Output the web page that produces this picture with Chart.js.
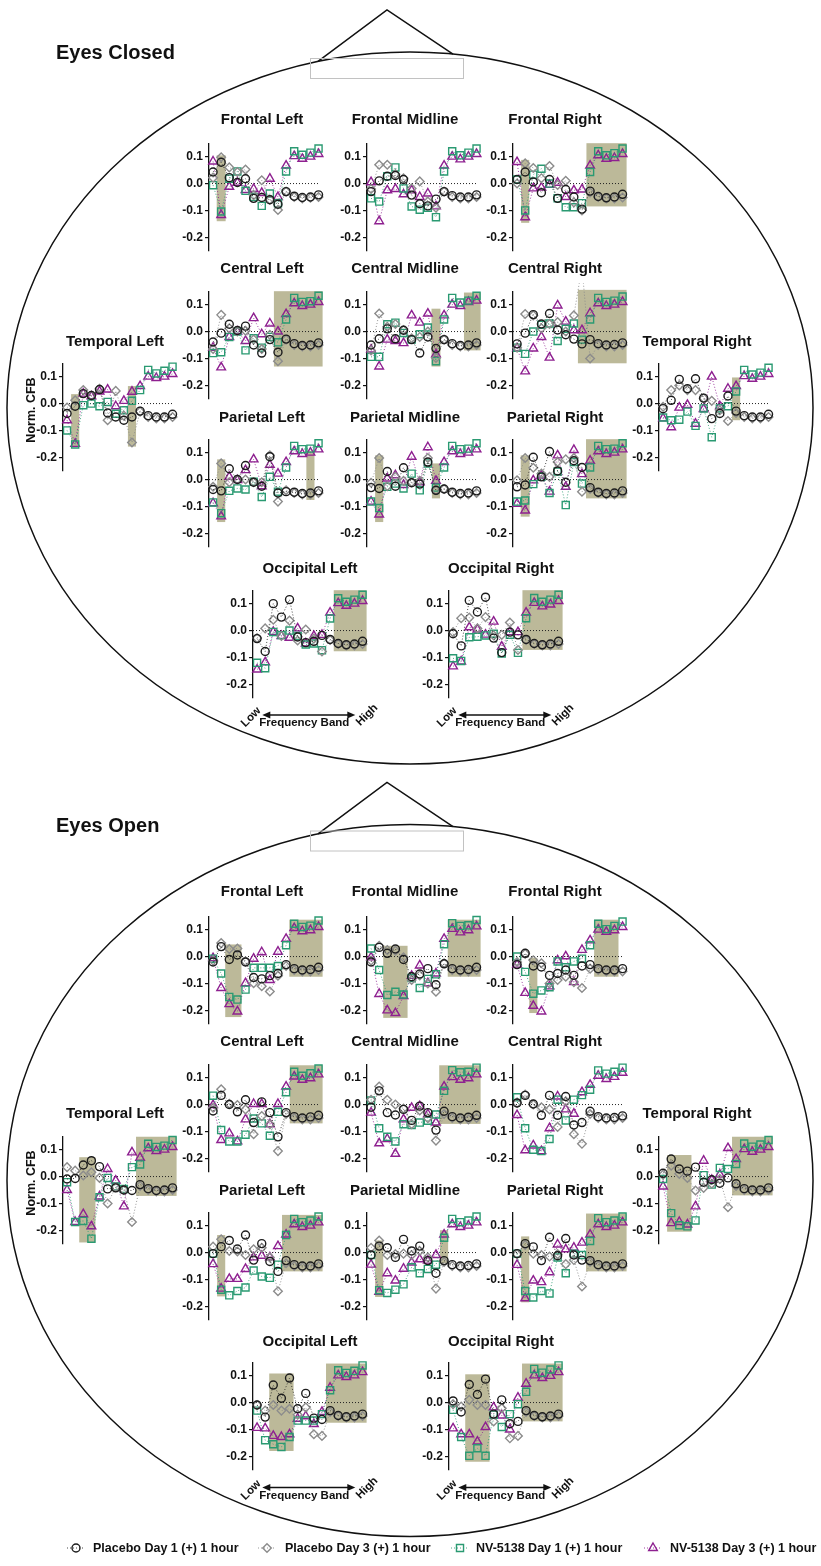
<!DOCTYPE html>
<html><head><meta charset="utf-8">
<script src="https://cdn.jsdelivr.net/npm/chart.js@4.4.0/dist/chart.umd.min.js"></script>
<style>
html,body{margin:0;padding:0;background:#fff;}
#page{position:relative;width:821px;height:1566px;overflow:hidden;font-family:"Liberation Sans",Arial,sans-serif;}
.t{position:absolute;font-weight:bold;color:#111;white-space:nowrap;line-height:1;}
canvas.p{position:absolute;}
</style></head><body>
<div id="page"><canvas id="bg" width="821" height="1566" style="position:absolute;left:0;top:0"></canvas></div>
<script>
// ---------------- DATA ----------------
const bands = [0,1,2,3,4,5,6,7,8,9,10,11,12,13];
const yTickValues = [0.1, 0.0, -0.1, -0.2];
const seriesNames = ['Placebo Day 1 (+) 1 hour','Placebo Day 3 (+) 1 hour','NV-5138 Day 1 (+) 1 hour','NV-5138 Day 3 (+) 1 hour'];
const conditions = ['Eyes Closed','Eyes Open'];

// Eyes Closed
const EC_FL_pl1=[0.043,0.079,0.022,0.004,0.018,-0.055,-0.052,-0.06,-0.077,-0.03,-0.047,-0.052,-0.05,-0.042];
const EC_FL_pl3=[0.022,0.098,0.06,0.043,0.052,-0.043,0.012,-0.06,-0.098,-0.03,-0.05,-0.055,-0.053,-0.05];
const EC_FL_nv1=[-0.006,-0.104,0.018,0.045,-0.027,-0.05,-0.083,-0.037,-0.073,0.045,0.12,0.107,0.115,0.13];
const EC_FL_nv3=[0.082,-0.117,-0.012,0.003,-0.024,-0.02,-0.035,0.018,-0.05,0.067,0.102,0.092,0.1,0.11];
const EC_FL_box=[[0.45,1.55,-0.14,0.105]];

const EC_FM_pl1=[-0.03,0.01,0.027,0.03,0.015,-0.043,-0.075,-0.083,-0.058,-0.03,-0.045,-0.05,-0.05,-0.042];
const EC_FM_pl3=[-0.02,0.07,0.07,0.035,0.02,-0.018,0.008,-0.067,-0.09,-0.03,-0.05,-0.055,-0.055,-0.05];
const EC_FM_nv1=[-0.055,-0.067,0.027,0.06,-0.018,-0.085,-0.097,-0.09,-0.125,0.045,0.12,0.105,0.115,0.13];
const EC_FM_nv3=[0.005,-0.14,-0.025,-0.02,-0.04,-0.025,-0.05,-0.037,-0.085,0.067,0.1,0.09,0.1,0.11];
const EC_FM_box=[];

const EC_FR_pl1=[0.015,0.043,0.006,-0.034,0.015,-0.055,-0.022,-0.05,-0.095,-0.028,-0.048,-0.053,-0.05,-0.04];
const EC_FR_pl3=[0.0,0.075,0.058,0.02,0.065,-0.005,0.01,-0.07,-0.1,-0.033,-0.05,-0.055,-0.055,-0.052];
const EC_FR_nv1=[0.015,-0.1,0.033,0.055,0.0,-0.055,-0.088,-0.088,-0.073,0.043,0.12,0.105,0.113,0.13];
const EC_FR_nv3=[0.08,-0.125,-0.018,-0.015,-0.005,0.003,-0.05,-0.025,-0.022,0.067,0.105,0.092,0.095,0.11];
const EC_FR_box=[[0.5,1.5,-0.146,0.088],[8.55,13.5,-0.085,0.15]];

const EC_CL_pl1=[-0.039,-0.006,0.027,0.004,0.02,-0.05,-0.08,-0.03,-0.077,-0.028,-0.045,-0.052,-0.05,-0.042];
const EC_CL_pl3=[-0.065,0.062,0.012,0.0,0.003,-0.03,-0.065,-0.012,-0.11,-0.03,-0.05,-0.055,-0.055,-0.05];
const EC_CL_nv1=[-0.08,-0.077,-0.02,0.0,-0.07,-0.025,-0.06,-0.02,-0.04,0.045,0.125,0.11,0.113,0.133];
const EC_CL_nv3=[-0.06,-0.133,-0.02,0.0,-0.035,0.05,-0.01,0.03,0.0,0.065,0.105,0.095,0.1,0.11];
const EC_CL_box=[[7.5,13.5,-0.13,0.15]];

const EC_CM_pl1=[-0.05,-0.027,0.01,-0.027,0.005,-0.03,-0.08,-0.02,-0.063,-0.03,-0.045,-0.052,-0.05,-0.042];
const EC_CM_pl3=[-0.07,0.067,0.018,0.028,0.006,-0.025,-0.02,0.0,-0.098,-0.03,-0.05,-0.055,-0.055,-0.05];
const EC_CM_nv1=[-0.094,-0.094,0.027,0.033,-0.005,-0.03,-0.01,0.015,-0.11,0.045,0.125,0.108,0.115,0.133];
const EC_CM_nv3=[-0.067,-0.13,-0.03,-0.035,-0.043,0.06,0.033,0.067,-0.085,0.06,0.1,0.095,0.11,0.115];
const EC_CM_box=[[7.45,8.55,-0.13,0.085],[11.45,13.5,-0.07,0.145]];

const EC_CR_pl1=[-0.046,-0.006,0.063,0.028,0.067,0.006,-0.012,-0.028,-0.046,-0.03,-0.045,-0.05,-0.048,-0.042];
const EC_CR_pl3=[-0.06,0.065,0.06,0.012,0.028,0.035,0.0,0.06,0.24,-0.1,-0.05,-0.055,-0.055,-0.05];
const EC_CR_nv1=[-0.06,-0.083,0.0,0.025,0.03,-0.035,0.01,0.03,-0.03,0.045,0.125,0.11,0.115,0.13];
const EC_CR_nv3=[-0.062,-0.148,-0.063,-0.02,-0.097,0.097,0.037,0.005,0.005,0.068,0.105,0.095,0.1,0.11];
const EC_CR_box=[[7.5,13.5,-0.118,0.155]];

const EC_TL_pl1=[-0.037,-0.01,0.037,0.03,0.052,-0.035,-0.05,-0.062,-0.05,-0.028,-0.045,-0.05,-0.05,-0.04];
const EC_TL_pl3=[-0.015,0.012,0.05,0.03,0.055,-0.062,0.047,-0.045,-0.145,-0.03,-0.05,-0.055,-0.055,-0.05];
const EC_TL_nv1=[-0.1,-0.152,-0.006,0.0,-0.01,0.006,-0.038,-0.025,0.01,0.05,0.125,0.112,0.122,0.137];
const EC_TL_nv3=[-0.062,-0.15,0.037,0.027,0.045,0.052,-0.01,0.01,0.044,0.065,0.1,0.095,0.1,0.11];
const EC_TL_box=[[0.5,1.5,-0.16,0.035],[7.5,8.5,-0.16,0.065]];

const EC_TR_pl1=[-0.019,0.012,0.09,0.055,0.092,0.02,-0.056,-0.037,0.028,-0.028,-0.045,-0.05,-0.05,-0.04];
const EC_TR_pl3=[-0.012,0.05,0.067,0.05,0.05,0.02,0.01,-0.025,-0.065,-0.035,-0.05,-0.055,-0.055,-0.05];
const EC_TR_nv1=[-0.052,-0.062,-0.06,-0.03,-0.083,-0.018,-0.125,-0.018,-0.01,0.045,0.125,0.108,0.115,0.133];
const EC_TR_nv3=[-0.055,-0.088,-0.015,-0.005,-0.075,-0.02,0.1,-0.01,0.055,0.065,0.102,0.092,0.1,0.11];
const EC_TR_box=[[8.5,9.5,-0.062,0.097]];

const EC_PL_pl1=[-0.037,-0.042,0.04,0.0,0.052,-0.01,-0.025,0.085,-0.05,-0.045,-0.047,-0.052,-0.05,-0.042];
const EC_PL_pl3=[-0.027,0.06,-0.01,0.0,0.0,-0.01,-0.01,0.09,-0.082,-0.04,-0.05,-0.055,-0.055,-0.05];
const EC_PL_nv1=[-0.085,-0.125,-0.042,-0.033,-0.037,-0.008,-0.065,0.01,-0.045,0.045,0.125,0.113,0.115,0.135];
const EC_PL_nv3=[-0.088,-0.137,0.01,-0.002,0.035,0.075,-0.025,0.055,0.022,0.065,0.105,0.095,0.1,0.112];
const EC_PL_box=[[0.5,1.5,-0.158,0.075],[11.5,12.5,-0.076,0.107]];

const EC_PM_pl1=[-0.03,-0.033,0.03,-0.025,0.044,-0.012,-0.017,0.065,-0.04,-0.035,-0.047,-0.052,-0.05,-0.042];
const EC_PM_pl3=[-0.012,0.08,-0.025,0.01,-0.005,-0.01,-0.005,0.08,-0.04,-0.035,-0.05,-0.055,-0.055,-0.05];
const EC_PM_nv1=[-0.082,-0.106,-0.027,-0.015,-0.033,0.022,-0.04,0.06,-0.03,0.045,0.125,0.113,0.115,0.135];
const EC_PM_nv3=[-0.082,-0.13,0.004,0.016,-0.02,0.085,-0.01,0.12,-0.005,0.065,0.105,0.095,0.1,0.112];
const EC_PM_box=[[0.5,1.5,-0.158,0.09],[7.5,8.5,-0.07,0.06]];

const EC_PR_pl1=[-0.027,-0.02,0.083,0.01,0.104,0.032,-0.01,0.07,0.045,-0.03,-0.047,-0.052,-0.05,-0.042];
const EC_PR_pl3=[-0.003,0.08,0.044,0.022,0.01,0.065,0.075,0.08,-0.045,-0.035,-0.05,-0.055,-0.055,-0.05];
const EC_PR_nv1=[-0.082,-0.078,-0.017,0.01,-0.05,0.03,-0.095,0.065,-0.015,0.045,0.125,0.113,0.115,0.135];
const EC_PR_nv3=[-0.09,-0.115,-0.003,0.015,-0.045,0.09,-0.027,0.11,0.02,0.07,0.105,0.095,0.1,0.112];
const EC_PR_box=[[0.45,1.55,-0.138,0.09],[8.5,13.5,-0.07,0.15]];

const EC_OL_pl1=[-0.03,-0.078,0.1,0.05,0.115,-0.024,-0.045,-0.04,-0.018,-0.033,-0.048,-0.053,-0.05,-0.04];
const EC_OL_pl3=[-0.028,0.008,0.04,-0.02,0.037,-0.037,0.004,-0.03,-0.078,-0.035,-0.05,-0.055,-0.055,-0.05];
const EC_OL_nv1=[-0.12,-0.14,-0.005,-0.017,0.0,-0.02,-0.052,-0.048,-0.073,0.045,0.12,0.107,0.115,0.133];
const EC_OL_nv3=[-0.145,-0.118,-0.005,-0.02,-0.027,0.008,-0.048,-0.02,-0.016,0.067,0.102,0.092,0.1,0.11];
const EC_OL_box=[[9.45,13.5,-0.077,0.15]];

const EC_OR_pl1=[-0.012,-0.057,0.112,0.069,0.124,-0.028,-0.082,-0.006,-0.016,-0.033,-0.048,-0.053,-0.05,-0.04];
const EC_OR_pl3=[-0.006,0.046,0.048,0.008,0.05,-0.018,-0.016,0.03,-0.072,-0.035,-0.05,-0.055,-0.055,-0.05];
const EC_OR_nv1=[-0.103,-0.113,-0.025,-0.023,-0.018,-0.012,-0.085,-0.016,-0.083,0.046,0.121,0.107,0.115,0.133];
const EC_OR_nv3=[-0.133,-0.115,0.012,0.004,-0.015,0.033,-0.06,-0.006,-0.006,0.067,0.103,0.09,0.097,0.11];
const EC_OR_box=[[8.55,13.5,-0.072,0.15]];

// Eyes Open
const EO_FL_pl1=[-0.02,0.037,-0.011,0.006,-0.02,-0.078,-0.083,-0.071,-0.063,-0.03,-0.045,-0.05,-0.048,-0.04];
const EO_FL_pl3=[-0.015,0.05,0.028,0.03,-0.018,-0.099,-0.11,-0.13,-0.071,-0.035,-0.05,-0.055,-0.055,-0.05];
const EO_FL_nv1=[-0.008,-0.063,-0.15,-0.16,-0.123,-0.042,-0.042,-0.042,-0.035,0.042,0.122,0.11,0.115,0.134];
const EO_FL_nv3=[-0.006,-0.117,-0.177,-0.204,-0.099,-0.008,0.016,-0.087,0.018,0.066,0.106,0.094,0.098,0.11];
const EO_FL_box=[[1.5,3.5,-0.225,0.045],[9.4,13.5,-0.075,0.137]];

const EO_FM_pl1=[-0.02,0.034,0.012,0.028,-0.011,-0.075,-0.065,-0.045,-0.105,-0.027,-0.045,-0.05,-0.048,-0.04];
const EO_FM_pl3=[-0.015,0.04,0.024,0.022,-0.003,-0.087,-0.07,-0.1,-0.131,-0.025,-0.05,-0.055,-0.055,-0.05];
const EO_FM_nv1=[0.03,-0.05,-0.143,-0.131,-0.141,-0.08,-0.117,-0.083,-0.066,0.046,0.124,0.114,0.116,0.136];
const EO_FM_nv3=[-0.003,-0.139,-0.2,-0.21,-0.147,-0.072,-0.033,-0.099,-0.063,0.066,0.103,0.09,0.098,0.112];
const EO_FM_box=[[1.5,4.5,-0.228,0.04],[9.45,13.5,-0.075,0.137]];

const EO_FR_pl1=[-0.03,0.012,-0.035,-0.039,-0.07,-0.063,-0.05,-0.07,-0.035,-0.03,-0.045,-0.05,-0.05,-0.045];
const EO_FR_pl3=[-0.02,0.01,-0.014,-0.025,-0.1,-0.087,-0.075,-0.095,-0.117,-0.045,-0.05,-0.055,-0.055,-0.055];
const EO_FR_nv1=[0.0,-0.057,-0.138,-0.126,-0.114,-0.018,-0.04,-0.018,-0.008,0.042,0.122,0.102,0.114,0.13];
const EO_FR_nv3=[-0.03,-0.135,-0.183,-0.204,-0.111,-0.014,0.001,-0.095,0.025,0.06,0.1,0.092,0.098,0.11];
const EO_FR_box=[[1.5,2.5,-0.21,-0.005],[9.5,12.5,-0.075,0.137]];

const EO_CL_pl1=[-0.024,0.034,0.0,-0.027,0.018,-0.067,0.01,-0.03,-0.12,-0.03,-0.045,-0.05,-0.046,-0.04];
const EO_CL_pl3=[-0.012,0.057,0.003,-0.002,-0.018,-0.11,-0.043,-0.073,-0.173,-0.035,-0.05,-0.055,-0.055,-0.05];
const EO_CL_nv1=[0.033,-0.095,-0.137,-0.137,-0.112,-0.052,-0.07,-0.116,-0.027,0.046,0.122,0.107,0.116,0.134];
const EO_CL_nv3=[-0.002,-0.132,-0.107,-0.137,-0.055,0.002,0.002,-0.073,0.002,0.067,0.104,0.092,0.098,0.112];
const EO_CL_box=[[9.45,13.5,-0.07,0.146]];

const EO_CM_pl1=[-0.01,0.051,-0.03,-0.039,-0.018,-0.059,-0.006,-0.03,-0.095,-0.025,-0.045,-0.05,-0.047,-0.04];
const EO_CM_pl3=[0.018,0.067,0.018,0.0,-0.015,-0.073,-0.022,-0.051,-0.134,-0.035,-0.05,-0.055,-0.055,-0.05];
const EO_CM_nv1=[0.015,-0.088,-0.12,-0.137,-0.073,-0.076,-0.067,-0.06,-0.037,0.051,0.128,0.12,0.122,0.137];
const EO_CM_nv3=[-0.03,-0.144,-0.128,-0.183,-0.055,-0.012,-0.006,-0.036,-0.067,0.067,0.102,0.092,0.098,0.112];
const EO_CM_box=[[8.4,13.5,-0.072,0.146]];

const EO_CR_pl1=[0.006,0.034,0.002,-0.04,0.034,-0.04,0.03,-0.076,-0.067,-0.025,-0.045,-0.05,-0.048,-0.042];
const EO_CR_pl3=[0.006,0.037,0.0,-0.01,-0.018,-0.083,0.012,-0.11,-0.146,-0.035,-0.05,-0.055,-0.055,-0.05];
const EO_CR_nv1=[0.027,-0.088,-0.168,-0.173,-0.128,0.018,-0.059,0.018,0.035,0.055,0.127,0.115,0.122,0.137];
const EO_CR_nv3=[-0.039,-0.17,-0.152,-0.173,-0.088,0.03,-0.018,-0.034,0.046,0.073,0.107,0.095,0.103,0.118];
const EO_CR_box=[];

const EO_TL_pl1=[-0.009,-0.007,0.043,0.059,0.037,-0.046,-0.042,-0.05,-0.052,-0.03,-0.045,-0.052,-0.05,-0.042];
const EO_TL_pl3=[0.035,0.022,0.004,0.016,-0.005,-0.1,-0.04,-0.05,-0.169,-0.035,-0.05,-0.055,-0.055,-0.05];
const EO_TL_nv1=[-0.021,-0.169,-0.165,-0.231,-0.077,-0.005,-0.037,-0.046,0.035,0.045,0.122,0.11,0.115,0.136];
const EO_TL_nv3=[-0.05,-0.169,-0.14,-0.185,-0.074,0.028,-0.015,-0.111,0.09,0.07,0.105,0.095,0.1,0.11];
const EO_TL_box=[[1.5,3.5,-0.245,0.072],[8.5,13.5,-0.072,0.148]];

const EO_TR_pl1=[0.012,0.065,0.028,0.02,0.035,-0.021,-0.012,-0.025,-0.005,-0.027,-0.045,-0.05,-0.05,-0.042];
const EO_TR_pl3=[0.007,0.04,0.01,-0.005,-0.052,-0.042,-0.027,-0.009,-0.114,-0.035,-0.05,-0.055,-0.055,-0.05];
const EO_TR_nv1=[-0.009,-0.136,-0.181,-0.185,-0.163,0.005,-0.03,0.032,0.028,0.047,0.123,0.111,0.119,0.136];
const EO_TR_nv3=[-0.037,-0.173,-0.169,-0.178,-0.111,0.059,-0.012,0.007,0.106,0.065,0.102,0.092,0.1,0.11];
const EO_TR_box=[[0.5,3.5,-0.205,0.08],[8.5,13.5,-0.07,0.148]];

const EO_PL_pl1=[-0.004,0.022,0.045,0.013,0.065,-0.028,0.033,-0.033,-0.07,-0.03,-0.045,-0.05,-0.05,-0.042];
const EO_PL_pl3=[0.022,0.049,0.006,0.004,-0.009,0.012,0.018,-0.018,-0.144,-0.04,-0.05,-0.055,-0.055,-0.05];
const EO_PL_nv1=[-0.004,-0.138,-0.159,-0.143,-0.13,-0.067,-0.089,-0.094,-0.045,0.065,0.125,0.113,0.119,0.134];
const EO_PL_nv3=[-0.043,-0.134,-0.098,-0.098,-0.061,-0.018,-0.012,-0.018,0.024,0.067,0.105,0.095,0.1,0.112];
const EO_PL_box=[[0.5,1.5,-0.163,0.065],[8.5,13.5,-0.07,0.14]];

const EO_PM_pl1=[-0.009,0.024,0.018,-0.018,0.049,0.006,0.024,-0.03,-0.077,-0.03,-0.045,-0.05,-0.048,-0.042];
const EO_PM_pl3=[0.018,0.045,-0.009,-0.006,-0.004,-0.009,0.006,-0.018,-0.134,-0.035,-0.05,-0.055,-0.055,-0.05];
const EO_PM_nv1=[-0.009,-0.14,-0.15,-0.138,-0.118,-0.055,-0.077,-0.061,-0.045,0.055,0.125,0.113,0.119,0.134];
const EO_PM_nv3=[-0.045,-0.146,-0.077,-0.104,-0.06,-0.037,-0.025,-0.03,-0.009,0.067,0.105,0.095,0.1,0.112];
const EO_PM_box=[[0.5,1.5,-0.165,0.045],[8.5,9.5,-0.04,0.083]];

const EO_PR_pl1=[-0.004,0.033,0.021,-0.03,0.057,-0.012,0.052,-0.009,-0.028,-0.03,-0.045,-0.05,-0.05,-0.042];
const EO_PR_pl3=[-0.006,0.028,-0.004,-0.009,-0.015,-0.006,-0.043,-0.028,-0.126,-0.035,-0.05,-0.055,-0.055,-0.05];
const EO_PR_nv1=[-0.004,-0.143,-0.167,-0.143,-0.152,-0.018,-0.077,-0.004,-0.009,0.043,0.128,0.113,0.119,0.134];
const EO_PR_nv3=[-0.046,-0.17,-0.104,-0.11,-0.073,0.03,0.012,0.018,0.037,0.067,0.105,0.095,0.1,0.112];
const EO_PR_box=[[0.5,1.5,-0.185,0.06],[8.5,13.5,-0.07,0.145]];

const EO_OL_pl1=[-0.009,-0.054,0.065,0.016,0.091,-0.023,0.034,-0.058,-0.063,-0.03,-0.048,-0.053,-0.05,-0.043];
const EO_OL_pl3=[-0.009,-0.03,-0.009,-0.03,-0.023,-0.045,-0.018,-0.118,-0.124,-0.035,-0.05,-0.055,-0.055,-0.05];
const EO_OL_nv1=[-0.03,-0.14,-0.155,-0.165,-0.128,-0.067,-0.067,-0.067,-0.043,0.046,0.12,0.11,0.118,0.138];
const EO_OL_nv3=[-0.094,-0.096,-0.124,-0.128,-0.118,-0.06,-0.051,-0.08,-0.035,0.055,0.101,0.095,0.101,0.113];
const EO_OL_box=[[1.5,4.5,-0.18,0.108],[8.5,13.5,-0.075,0.145]];

const EO_OR_pl1=[0.006,-0.035,0.067,0.03,0.087,-0.043,0.01,-0.079,-0.07,-0.03,-0.048,-0.053,-0.05,-0.043];
const EO_OR_pl3=[-0.006,-0.015,0.01,-0.009,-0.009,-0.07,-0.021,-0.133,-0.124,-0.035,-0.05,-0.055,-0.055,-0.05];
const EO_OR_nv1=[-0.027,-0.128,-0.198,-0.17,-0.198,-0.045,-0.091,-0.043,-0.006,0.04,0.125,0.111,0.123,0.138];
const EO_OR_nv3=[-0.096,-0.118,-0.118,-0.145,-0.091,-0.018,-0.048,-0.1,0.018,0.07,0.101,0.091,0.099,0.113];
const EO_OR_box=[[1.5,4.5,-0.22,0.105],[8.5,13.5,-0.07,0.145]];

// ---------------- PANELS ----------------
const panels = [
 ['EC','FL','Frontal Left',[EC_FL_pl1,EC_FL_pl3,EC_FL_nv1,EC_FL_nv3],EC_FL_box],
 ['EC','FM','Frontal Midline',[EC_FM_pl1,EC_FM_pl3,EC_FM_nv1,EC_FM_nv3],EC_FM_box],
 ['EC','FR','Frontal Right',[EC_FR_pl1,EC_FR_pl3,EC_FR_nv1,EC_FR_nv3],EC_FR_box],
 ['EC','CL','Central Left',[EC_CL_pl1,EC_CL_pl3,EC_CL_nv1,EC_CL_nv3],EC_CL_box],
 ['EC','CM','Central Midline',[EC_CM_pl1,EC_CM_pl3,EC_CM_nv1,EC_CM_nv3],EC_CM_box],
 ['EC','CR','Central Right',[EC_CR_pl1,EC_CR_pl3,EC_CR_nv1,EC_CR_nv3],EC_CR_box],
 ['EC','TL','Temporal Left',[EC_TL_pl1,EC_TL_pl3,EC_TL_nv1,EC_TL_nv3],EC_TL_box],
 ['EC','TR','Temporal Right',[EC_TR_pl1,EC_TR_pl3,EC_TR_nv1,EC_TR_nv3],EC_TR_box],
 ['EC','PL','Parietal Left',[EC_PL_pl1,EC_PL_pl3,EC_PL_nv1,EC_PL_nv3],EC_PL_box],
 ['EC','PM','Parietal Midline',[EC_PM_pl1,EC_PM_pl3,EC_PM_nv1,EC_PM_nv3],EC_PM_box],
 ['EC','PR','Parietal Right',[EC_PR_pl1,EC_PR_pl3,EC_PR_nv1,EC_PR_nv3],EC_PR_box],
 ['EC','OL','Occipital Left',[EC_OL_pl1,EC_OL_pl3,EC_OL_nv1,EC_OL_nv3],EC_OL_box],
 ['EC','OR','Occipital Right',[EC_OR_pl1,EC_OR_pl3,EC_OR_nv1,EC_OR_nv3],EC_OR_box],
 ['EO','FL','Frontal Left',[EO_FL_pl1,EO_FL_pl3,EO_FL_nv1,EO_FL_nv3],EO_FL_box],
 ['EO','FM','Frontal Midline',[EO_FM_pl1,EO_FM_pl3,EO_FM_nv1,EO_FM_nv3],EO_FM_box],
 ['EO','FR','Frontal Right',[EO_FR_pl1,EO_FR_pl3,EO_FR_nv1,EO_FR_nv3],EO_FR_box],
 ['EO','CL','Central Left',[EO_CL_pl1,EO_CL_pl3,EO_CL_nv1,EO_CL_nv3],EO_CL_box],
 ['EO','CM','Central Midline',[EO_CM_pl1,EO_CM_pl3,EO_CM_nv1,EO_CM_nv3],EO_CM_box],
 ['EO','CR','Central Right',[EO_CR_pl1,EO_CR_pl3,EO_CR_nv1,EO_CR_nv3],EO_CR_box],
 ['EO','TL','Temporal Left',[EO_TL_pl1,EO_TL_pl3,EO_TL_nv1,EO_TL_nv3],EO_TL_box],
 ['EO','TR','Temporal Right',[EO_TR_pl1,EO_TR_pl3,EO_TR_nv1,EO_TR_nv3],EO_TR_box],
 ['EO','PL','Parietal Left',[EO_PL_pl1,EO_PL_pl3,EO_PL_nv1,EO_PL_nv3],EO_PL_box],
 ['EO','PM','Parietal Midline',[EO_PM_pl1,EO_PM_pl3,EO_PM_nv1,EO_PM_nv3],EO_PM_box],
 ['EO','PR','Parietal Right',[EO_PR_pl1,EO_PR_pl3,EO_PR_nv1,EO_PR_nv3],EO_PR_box],
 ['EO','OL','Occipital Left',[EO_OL_pl1,EO_OL_pl3,EO_OL_nv1,EO_OL_nv3],EO_OL_box],
 ['EO','OR','Occipital Right',[EO_OR_pl1,EO_OR_pl3,EO_OR_nv1,EO_OR_nv3],EO_OR_box]
];

// ---------------- LAYOUT & STYLE ----------------
const FONT = '"Liberation Sans", Arial, Helvetica, sans-serif';
const condOffset = {EC:0, EO:772.5};
const layout = {
 FL:{ax:209,zy:183.5,tx:262,ty:117.5}, FM:{ax:366.5,zy:183.5,tx:405,ty:117.5}, FR:{ax:513.3,zy:183.5,tx:555,ty:117.5},
 CL:{ax:209,zy:331.7,tx:262,ty:267}, CM:{ax:366.5,zy:331.7,tx:405,ty:267}, CR:{ax:513.3,zy:331.7,tx:555,ty:267},
 TL:{ax:63,zy:403.5,tx:115,ty:339.5}, TR:{ax:659,zy:403.5,tx:697,ty:339.5},
 PL:{ax:209,zy:479.3,tx:262,ty:416}, PM:{ax:366.5,zy:479.3,tx:405,ty:416}, PR:{ax:513.3,zy:479.3,tx:555,ty:416},
 OL:{ax:253.3,zy:630,tx:310,ty:567}, OR:{ax:449.3,zy:630,tx:501,ty:567}
};
const styles = [
 {ps:'circle', r:4, color:'#1c1c1c', line:'rgba(40,40,40,0.85)'},
 {ps:'rectRot', r:4.3, color:'#8c8c8c', line:'rgba(140,140,140,0.9)'},
 {ps:'rect', r:5, color:'#2a9a72', line:'rgba(42,154,114,0.85)'},
 {ps:'triangle', r:5, color:'#8e2090', line:'rgba(142,32,144,0.85)'}
];
const BOX_COLOR = '#bcb999';
const YAXW = 30, PLOTW = 114, PLOTH = 110, PADV = 8, PADR = 6;
const PX_PER_UNIT = PLOTH / 0.4;

const page = document.getElementById('page');
function addText(str, x, y, size, opt) {
  opt = opt || {};
  const d = document.createElement('div');
  d.className = 't';
  d.textContent = str;
  d.style.fontSize = size + 'px';
  d.style.left = x + 'px';
  d.style.top = y + 'px';
  const tx = opt.align === 'left' ? '0' : '-50%';
  d.style.transform = 'translate(' + tx + ',-50%)' + (opt.rot ? ' rotate(' + opt.rot + 'deg)' : '');
  if (opt.rot && opt.align !== 'left') d.style.transformOrigin = '50% 50%';
  page.appendChild(d);
  return d;
}
function fmt(v){ return Math.abs(v) < 1e-9 ? '0.0' : v.toFixed(1); }

function makePanel(p) {
  const [cond, key, title, series, boxes] = p;
  const L = layout[key], off = condOffset[cond];
  const zy = L.zy + off;
  const cv = document.createElement('canvas');
  cv.className = 'p';
  cv.width = YAXW + PLOTW + PADR;
  cv.height = PLOTH + 2 * PADV;
  cv.style.left = (L.ax - YAXW) + 'px';
  cv.style.top = (zy - 0.15 * PX_PER_UNIT - PADV) + 'px';
  page.appendChild(cv);
  addText(title, L.tx, L.ty + off, 15);

  const boxPlugin = {
    id: 'bandBoxes',
    beforeDatasetsDraw(chart) {
      const {ctx, scales:{x, y}} = chart;
      ctx.save();
      ctx.fillStyle = BOX_COLOR;
      for (const b of boxes) {
        const x0 = x.getPixelForValue(b[0]), x1 = x.getPixelForValue(b[1]);
        const yTop = y.getPixelForValue(b[3]), yBot = y.getPixelForValue(b[2]);
        ctx.fillRect(x0, yTop, x1 - x0, yBot - yTop);
      }
      ctx.restore();
    }
  };

  const datasets = series.map((arr, i) => ({
    label: seriesNames[i],
    data: bands.map((b, j) => ({x: b, y: arr[j]})),
    borderColor: styles[i].line,
    borderWidth: 1,
    borderDash: [1, 2],
    pointStyle: styles[i].ps,
    pointRadius: styles[i].r,
    pointBorderColor: styles[i].color,
    pointBackgroundColor: 'rgba(255,255,255,0)',
    pointBorderWidth: 1.4,
    fill: false,
    tension: 0,
    clip: 8
  }));
  datasets.push({
    label: 'zero',
    data: [{x: -0.5, y: 0}, {x: 13, y: 0}],
    borderColor: '#222',
    borderWidth: 1,
    borderDash: [1, 2],
    pointRadius: 0,
    fill: false
  });

  new Chart(cv, {
    type: 'line',
    data: {datasets},
    options: {
      responsive: false, animation: false, devicePixelRatio: 1,
      layout: {padding: {top: PADV, bottom: PADV, left: 0, right: PADR}},
      plugins: {legend: {display: false}, tooltip: {enabled: false}, title: {display: false}},
      scales: {
        x: {type: 'linear', min: -0.5, max: 13.5, display: false},
        y: {
          type: 'linear', min: -0.25, max: 0.15,
          afterFit: s => { s.width = YAXW; },
          afterBuildTicks: s => { s.ticks = yTickValues.map(v => ({value: v})); },
          ticks: {callback: v => fmt(v), font: {family: FONT, size: 12, weight: 'bold'}, color: '#111', padding: 2, autoSkip: false},
          grid: {display: true, drawOnChartArea: false, drawTicks: true, tickLength: 4, color: '#111', lineWidth: 1.2},
          border: {display: true, color: '#111', width: 1.3}
        }
      }
    },
    plugins: [boxPlugin]
  });
}
panels.forEach(makePanel);

// ---------------- DECORATION ----------------
const bg = document.getElementById('bg').getContext('2d');
function head(oy) {
  const cx = 410, cy = 408 + oy, rx = 403, ry = 356;
  bg.save();
  bg.strokeStyle = '#111'; bg.lineWidth = 1.5;
  bg.beginPath(); bg.ellipse(cx, cy, rx, ry, 0, 0, Math.PI * 2); bg.stroke();
  const ey = x => cy - ry * Math.sqrt(1 - Math.pow((x - cx) / rx, 2));
  bg.beginPath(); bg.moveTo(318, ey(318)); bg.lineTo(387, 10 + oy); bg.lineTo(453, ey(453)); bg.stroke();
  bg.strokeStyle = '#c2c2c2'; bg.lineWidth = 1;
  bg.strokeRect(310.5, 58.5 + oy, 153, 20);
  bg.restore();
}
function arrow(x0, x1, y) {
  bg.save();
  bg.strokeStyle = '#111'; bg.fillStyle = '#111'; bg.lineWidth = 1.5;
  bg.beginPath(); bg.moveTo(x0 + 5, y); bg.lineTo(x1 - 5, y); bg.stroke();
  bg.beginPath(); bg.moveTo(x0, y); bg.lineTo(x0 + 8, y - 3.5); bg.lineTo(x0 + 8, y + 3.5); bg.closePath(); bg.fill();
  bg.beginPath(); bg.moveTo(x1, y); bg.lineTo(x1 - 8, y - 3.5); bg.lineTo(x1 - 8, y + 3.5); bg.closePath(); bg.fill();
  bg.restore();
}
['EC','EO'].forEach((c, ci) => {
  const off = condOffset[c];
  head(off);
  addText(conditions[ci], 56, 52 + off, 20, {align: 'left'});
  addText('Norm. CFB', 31, 410 + off, 12.5, {rot: -90});
  ['OL','OR'].forEach(k => {
    const ax = layout[k].ax;
    arrow(ax + 9, ax + 102, 715 + off);
    addText('Low', ax - 2, 717 + off, 11.5, {rot: -45});
    addText('High', ax + 114, 715 + off, 11.5, {rot: -45});
    addText('Frequency Band', ax + 51, 723 + off, 11.5);
  });
});

// legend
const legX = [76, 267, 460, 653], legTextX = [93, 285, 476, 670], legY = 1548;
function marker(ps, x, y, r, color) {
  bg.save();
  bg.strokeStyle = color; bg.lineWidth = 1.4;
  bg.beginPath();
  if (ps === 'circle') { bg.arc(x, y, r, 0, Math.PI * 2); }
  else if (ps === 'rectRot') { bg.moveTo(x, y - r); bg.lineTo(x + r, y); bg.lineTo(x, y + r); bg.lineTo(x - r, y); bg.closePath(); }
  else if (ps === 'rect') { const s = r * Math.SQRT1_2; bg.rect(x - s, y - s, 2 * s, 2 * s); }
  else { for (let k = 0; k < 3; k++) { const a = k * 2 * Math.PI / 3; const px = x + Math.sin(a) * r, py = y - Math.cos(a) * r; k ? bg.lineTo(px, py) : bg.moveTo(px, py); } bg.closePath(); }
  bg.stroke();
  bg.restore();
}
seriesNames.forEach((n, i) => {
  bg.save();
  bg.strokeStyle = styles[i].line; bg.lineWidth = 1; bg.setLineDash([1, 2]);
  bg.beginPath(); bg.moveTo(legX[i] - 9, legY); bg.lineTo(legX[i] + 9, legY); bg.stroke();
  bg.restore();
  marker(styles[i].ps, legX[i], legY, styles[i].r, styles[i].color);
  addText(n, legTextX[i], legY, 12.5, {align: 'left'});
});
</script>
</body></html>
